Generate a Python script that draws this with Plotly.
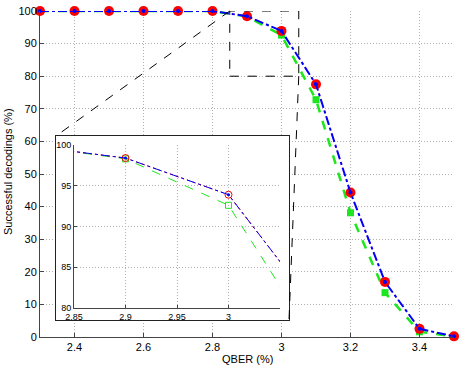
import plotly.graph_objects as go

# QBER sweep and decoding success rates (%)
qber = [2.3, 2.4, 2.5, 2.6, 2.7, 2.8, 2.9, 3.0, 3.1, 3.2, 3.3, 3.4, 3.5]
success_red = [100, 100, 100, 100, 100, 100, 98.4, 93.9, 77.5, 44.3, 16.9, 2.5, 0.2]
success_blue = [100, 100, 100, 100, 100, 100, 98.4, 93.9, 77.5, 44.3, 16.9, 2.5, 0.2]
success_green = [100, 100, 100, 100, 100, 100, 98.3, 92.6, 72.8, 38.1, 13.6, 1.6, 0.2]

x_ticks = [2.4, 2.6, 2.8, 3.0, 3.2, 3.4]
x_labels = ["2.4", "2.6", "2.8", "3", "3.2", "3.4"]
y_ticks = [0, 10, 20, 30, 40, 50, 60, 70, 80, 90, 100]

inset_x_ticks = [2.85, 2.9, 2.95, 3.0]
inset_x_labels = ["2.85", "2.9", "2.95", "3"]
inset_y_ticks = [80, 85, 90, 95, 100]

main_xrange = [2.3, 3.5]
main_yrange = [0, 100]
zoom_x = [2.85, 3.05]
zoom_y = [80, 100]

RED = "#ff0000"
BLUE = "#0000ff"
GREEN = "#1ee61e"
FONT = "Liberation Sans, Arial, sans-serif"

W, H = 460, 367
# plot area in page pixels: left 40, right 454, top 11, bottom 337
L, R, T, B = 40, W - 454, 11, H - 337
PW, PH = W - L - R, H - T - B


def px_x(page_x):
    return (page_x - L) / PW


def px_y(page_y):
    return (H - B - page_y) / PH


# inset frame and inset axes, in paper coords from page pixels
frame_x = [px_x(56), px_x(289)]
frame_y = [px_y(320), px_y(136)]
inset_dx = [px_x(74), px_x(280)]
inset_dy = [px_y(308), px_y(145)]

fig = go.Figure()

# main plot
fig.add_trace(go.Scatter(x=qber, y=success_green, mode="lines+markers",
                         line=dict(color=GREEN, width=2.5, dash="dash"),
                         marker=dict(symbol="square", size=7, color=GREEN),
                         cliponaxis=False, showlegend=False))
fig.add_trace(go.Scatter(x=qber, y=success_red, mode="lines+markers",
                         line=dict(color=RED, width=1, dash="dot"),
                         marker=dict(symbol="circle", size=10, color=RED),
                         cliponaxis=False, showlegend=False))
fig.add_trace(go.Scatter(x=qber, y=success_blue, mode="lines+markers",
                         line=dict(color=BLUE, width=2, dash="dashdot"),
                         marker=dict(symbol="circle", size=4, color=BLUE),
                         cliponaxis=False, showlegend=False))

# empty subplot that acts as the white inset frame
fig.add_trace(go.Scatter(x=[None], y=[None], xaxis="x2", yaxis="y2", showlegend=False))

# inset traces
fig.add_trace(go.Scatter(x=qber, y=success_green, mode="lines+markers", xaxis="x3", yaxis="y3",
                         line=dict(color=GREEN, width=1, dash="dash"),
                         marker=dict(symbol="square-open", size=6, color=GREEN),
                         showlegend=False))
fig.add_trace(go.Scatter(x=qber, y=success_red, mode="lines+markers", xaxis="x3", yaxis="y3",
                         line=dict(color=RED, width=1, dash="dot"),
                         marker=dict(symbol="circle-open", size=7, color=RED),
                         showlegend=False))
fig.add_trace(go.Scatter(x=qber, y=success_blue, mode="lines+markers", xaxis="x3", yaxis="y3",
                         line=dict(color=BLUE, width=1, dash="dashdot"),
                         marker=dict(symbol="circle", size=3, color=BLUE),
                         showlegend=False))

axis_common = dict(showline=True, linecolor="#444", linewidth=1, ticks="inside",
                   tickcolor="#444", showgrid=True, gridcolor="#b0b0b0", griddash="1px,2px",
                   gridwidth=1, zeroline=False, automargin=False,
                   tickfont=dict(family=FONT, size=11, color="black"))
inset_common = {**axis_common, "tickfont": dict(family=FONT, size=9, color="black")}

fig.update_layout(
    width=W, height=H,
    margin=dict(l=L, r=R, t=T, b=B),
    paper_bgcolor="white", plot_bgcolor="white",
    font=dict(family=FONT, color="black"),
    hovermode=False,
    xaxis=dict(range=main_xrange, tickvals=x_ticks, ticktext=x_labels, ticklen=4, **axis_common),
    yaxis=dict(range=main_yrange, tickvals=y_ticks, ticklen=4, **axis_common),
    xaxis2=dict(domain=frame_x, anchor="y2", range=[0, 1], showline=True, mirror=True,
                linecolor="#222", linewidth=1.3, showgrid=False, zeroline=False,
                showticklabels=False, ticks=""),
    yaxis2=dict(domain=frame_y, anchor="x2", range=[0, 1], showline=True, mirror=True,
                linecolor="#222", linewidth=1.3, showgrid=False, zeroline=False,
                showticklabels=False, ticks=""),
    xaxis3=dict(domain=inset_dx, anchor="y3", range=zoom_x, tickvals=inset_x_ticks,
                ticktext=inset_x_labels, ticklen=3, **inset_common),
    yaxis3=dict(domain=inset_dy, anchor="x3", range=zoom_y, tickvals=inset_y_ticks, ticklen=3,
                **inset_common),
)

# axis titles as annotations
fig.add_annotation(text="QBER (%)", xref="paper", yref="paper", x=px_x(247), y=px_y(359),
                   showarrow=False, font=dict(family=FONT, size=11),
                   xanchor="center", yanchor="middle")
fig.add_annotation(text="Successful decodings (%)", xref="paper", yref="paper",
                   x=px_x(8), y=px_y(172), textangle=-90,
                   showarrow=False, font=dict(family=FONT, size=11),
                   xanchor="center", yanchor="middle")


def to_paper_x(v):
    return (v - main_xrange[0]) / (main_xrange[1] - main_xrange[0])


def to_paper_y(v):
    return (v - main_yrange[0]) / (main_yrange[1] - main_yrange[0])


zoom_line = dict(color="black", width=1, dash="dash")
# dashed zoom rectangle on the main axes
fig.add_shape(type="rect", xref="x", yref="y", x0=zoom_x[0], x1=zoom_x[1], y0=zoom_y[0], y1=zoom_y[1],
              line=zoom_line, layer="above")
# connector lines from the zoom rectangle to the inset frame
fig.add_shape(type="line", xref="paper", yref="paper",
              x0=to_paper_x(zoom_x[0]), y0=to_paper_y(zoom_y[1]), x1=frame_x[0], y1=frame_y[1],
              line=zoom_line, layer="above")
fig.add_shape(type="line", xref="paper", yref="paper",
              x0=to_paper_x(zoom_x[1]), y0=to_paper_y(zoom_y[0]), x1=frame_x[1], y1=frame_y[0],
              line=zoom_line, layer="above")

# drop the browser's default body margin so the figure sits at the page corner
fig.write_html("out.html", config={"displayModeBar": False},
               post_script="document.body.style.margin = '0';")
